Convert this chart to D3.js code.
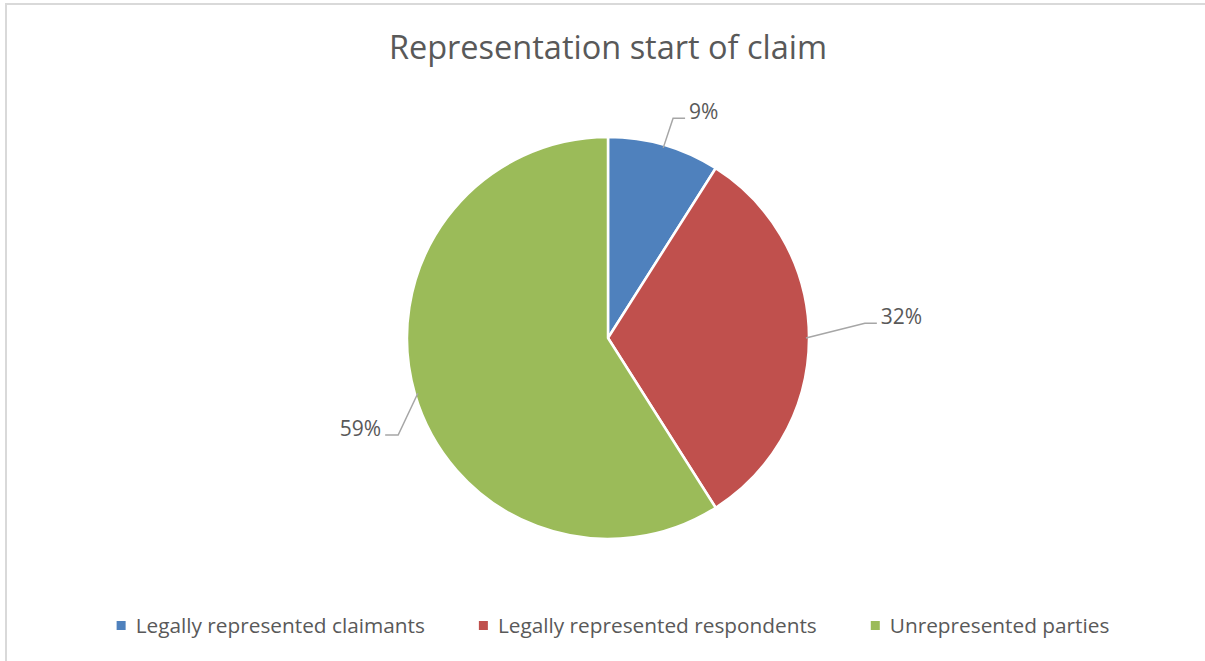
<!DOCTYPE html>
<html>
<head>
<meta charset="utf-8">
<script src="https://cdn.jsdelivr.net/npm/d3@7"></script>
<style>
  html, body { margin: 0; padding: 0; background: #fff; }
  svg { display: block; }
  text { font-family: "Open Sans", "DejaVu Sans", sans-serif; fill: #595959; }
</style>
</head>
<body>
<svg id="chart" width="1205" height="661"></svg>
<script>
// ---- data ----
const title = "Representation start of claim";
const categories = ["Legally represented claimants", "Legally represented respondents", "Unrepresented parties"];
const values = [9, 32, 59];
const labels = ["9%", "32%", "59%"];
const colors = ["#4f81bd", "#c0504d", "#9bbb59"];

// ---- layout ----
const W = 1205, H = 661;
const cx = 608, cy = 338, R = 201;
// leader elbow placement (angle offset in degrees, radius factor) per slice
const leaderLayout = [
  { da: 0.3, rf: 1.14 },
  { da: -3.3, rf: 1.28 },
  { da: -8.6, rf: 1.15 }
];

const svg = d3.select("#chart");

// outer frame
svg.append("rect")
  .attr("x", 6).attr("y", 4)
  .attr("width", W + 10).attr("height", H + 10)
  .attr("fill", "#fff")
  .attr("stroke", "#d9d9d9").attr("stroke-width", 2);

// title
svg.append("text")
  .attr("x", cx).attr("y", 59)
  .attr("text-anchor", "middle")
  .style("font-size", "32.5px")
  .text(title);

const pie = d3.pie().sort(null).value(d => d);
const arcs = pie(values);
const arc = d3.arc().innerRadius(0).outerRadius(R);

const g = svg.append("g").attr("transform", `translate(${cx},${cy})`);

g.selectAll("path.slice")
  .data(arcs)
  .join("path")
  .attr("class", "slice")
  .attr("d", arc)
  .attr("fill", (d, i) => colors[i])
  .attr("stroke", "#fff")
  .attr("stroke-width", 2.5)
  .attr("stroke-linejoin", "round");

// leader lines + labels
const pt = (a, r) => [r * Math.sin(a), -r * Math.cos(a)];
arcs.forEach((d, i) => {
  const mid = (d.startAngle + d.endAngle) / 2;
  const start = pt(mid, R - 3);
  const lay = leaderLayout[i];
  const elbow = pt(mid + lay.da * Math.PI / 180, R * lay.rf);
  const right = elbow[0] > 0;
  const end = [elbow[0] + (right ? 12 : -13), elbow[1]];
  g.append("polyline")
    .attr("points", [start, elbow, end].map(p => p.join(",")).join(" "))
    .attr("fill", "none")
    .attr("stroke", "#a6a6a6")
    .attr("stroke-width", 1.5);
  g.append("text")
    .attr("x", end[0] + (right ? 4 : -4))
    .attr("y", elbow[1] + 1)
    .attr("text-anchor", right ? "start" : "end")
    .style("font-size", "21px")
    .text(labels[i]);
});

// legend
const legend = svg.append("g");
const items = legend.selectAll("g.item")
  .data(categories)
  .join("g").attr("class", "item");
items.append("rect")
  .attr("width", 9).attr("height", 9)
  .attr("y", 621)
  .attr("fill", (d, i) => colors[i]);
items.append("text")
  .attr("y", 633)
  .style("font-size", "20.8px")
  .text(d => d);
const sq = 9, gap = 10, itemGap = 54;
const widths = [];
items.select("text").each(function() { widths.push(this.getComputedTextLength()); });
const total = d3.sum(widths) + categories.length * (sq + gap) + (categories.length - 1) * itemGap;
let x0 = 613 - total / 2;
items.each(function(d, i) {
  const it = d3.select(this);
  it.select("rect").attr("x", x0);
  it.select("text").attr("x", x0 + sq + gap);
  x0 += sq + gap + widths[i] + itemGap;
});
</script>
</body>
</html>
